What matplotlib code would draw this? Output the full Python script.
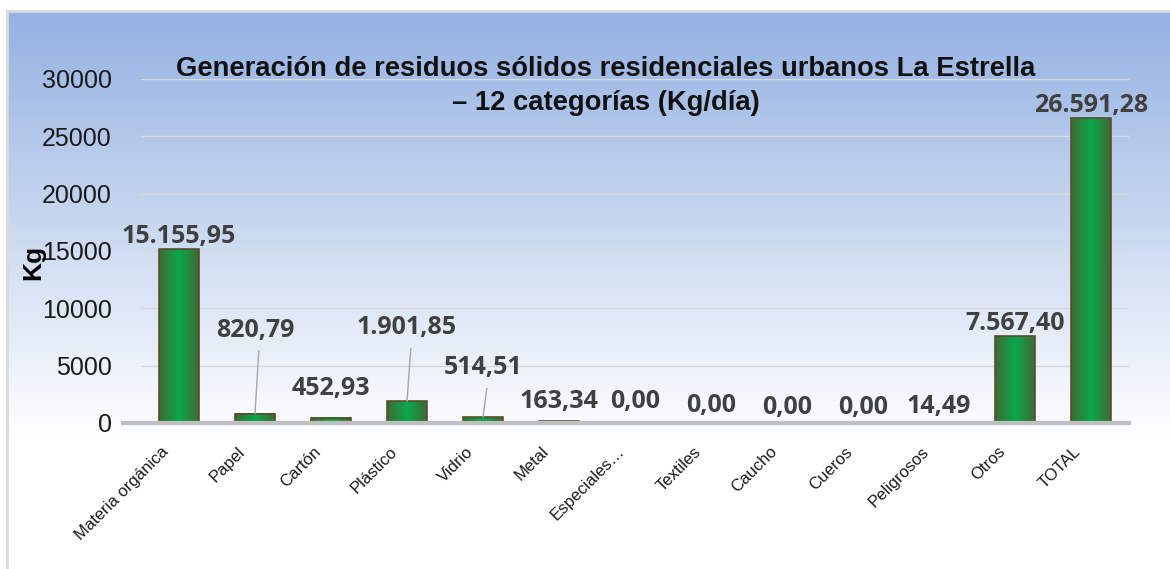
import numpy as np
import matplotlib
matplotlib.use("Agg")
import matplotlib.pyplot as plt
from matplotlib.colors import LinearSegmentedColormap, to_rgb
from matplotlib.lines import Line2D
from matplotlib.transforms import ScaledTranslation

# ---- data ----
categories = ["Materia orgánica", "Papel", "Cartón", "Plástico", "Vidrio", "Metal",
              "Especiales…", "Textiles", "Caucho", "Cueros", "Peligrosos", "Otros", "TOTAL"]
values = [15155.95, 820.79, 452.93, 1901.85, 514.51, 163.34, 0.00, 0.00, 0.00, 0.00,
          14.49, 7567.40, 26591.28]
labels = ["15.155,95", "820,79", "452,93", "1.901,85", "514,51", "163,34", "0,00", "0,00",
          "0,00", "0,00", "14,49", "7.567,40", "26.591,28"]
yticks = [0, 5000, 10000, 15000, 20000, 25000, 30000]
title = "Generación de residuos sólidos residenciales urbanos La Estrella\n– 12 categorías (Kg/día)"

# label positions (data units, centre of label); None = just above bar
label_y = [None, 8100, 3000, 8300, 4800, 1850, 1850, 1550, 1350, 1350, 1450, None, None]
leaders = {1, 3, 4}

W, H, DPI = 1170, 569, 100
fig = plt.figure(figsize=(W / DPI, H / DPI), dpi=DPI)
fig.patch.set_facecolor("white")

# background gradient (figure)
bg = fig.add_axes([0, 0, 1, 1], zorder=-10)
bg.set_axis_off()
top_c = np.array(to_rgb("#93b1e2"))
white = np.array([1, 1, 1])
ys = np.linspace(0, 1, 400)  # 0 = top
grad_end = 440 / H
t = np.clip((ys - 10 / H) / (grad_end - 10 / H), 0, 1)
cols = top_c[None, :] * (1 - t[:, None]) + white[None, :] * t[:, None]
img = np.repeat(cols[:, None, :], 2, axis=1)
bg.imshow(img, aspect="auto", extent=[0, 1, 0, 1], origin="upper")
bg.set_xlim(0, 1); bg.set_ylim(0, 1)
bg.add_patch(plt.Rectangle((0, 1 - 10 / H), 1, 10 / H, color="white", zorder=2))
bg.add_patch(plt.Rectangle((0, 0), 7 / W, 1, color="white", zorder=2))
bg.plot([7 / W, 7 / W], [0, 1 - 11 / H], color="#d9d9d9", lw=2, zorder=3)
bg.plot([7 / W, 1], [1 - 11 / H, 1 - 11 / H], color="#d9d9d9", lw=2, zorder=3)

ax = fig.add_axes([141 / W, 1 - 423 / H, (1129 - 141) / W, (423 - 79) / H])
ax.patch.set_alpha(0)
x = np.arange(len(categories))
bw = 0.52

cmap = LinearSegmentedColormap.from_list("g", ["#3f6a35", "#0aa84c", "#3f6a35"])
grad = np.linspace(0, 1, 64)[None, :]
for xi, v in zip(x, values):
    if v > 0:
        ax.imshow(grad, cmap=cmap, aspect="auto",
                  extent=[xi - bw / 2, xi + bw / 2, 0, v], zorder=3, interpolation="bicubic")
bars = ax.bar(x, values, width=bw, facecolor="none", edgecolor="#5a4e2c", linewidth=1.2, zorder=4)

ax.set_xlim(-0.5, len(categories) - 0.5)
ax.set_ylim(0, 30000)
ax.set_yticks(yticks)
ax.set_yticklabels([str(t) for t in yticks], fontsize=18, family="Liberation Sans", color="#1a1a1a")
ax.tick_params(axis="y", length=0, pad=21)
ax.tick_params(axis="x", length=0, pad=19)
ax.set_xticks(x)
ax.set_xticklabels(categories, rotation=45, ha="right", va="center", fontsize=12,
                   family="Liberation Sans", color="#1a1a1a", rotation_mode="anchor")
shift = ScaledTranslation(-9 / 72, 0, fig.dpi_scale_trans)
for lbl in ax.get_xticklabels():
    lbl.set_transform(lbl.get_transform() + shift)
ax.grid(axis="y", color="#d9d9d9", lw=1, zorder=0)
for s in ax.spines.values():
    s.set_visible(False)
ax.add_line(Line2D([-0.018, 1], [0, 0], transform=ax.transAxes, color="#bfbfbf", lw=3,
                   clip_on=False, zorder=5))

for i, (xi, v, lab) in enumerate(zip(x, values, labels)):
    ly = label_y[i]
    if ly is None:
        ax.annotate(lab, (xi, v), xytext=(0, 0), textcoords="offset points", ha="center",
                    va="bottom", fontsize=18, fontweight="bold", family="Open Sans",
                    color="#404040", zorder=6)
    else:
        ax.text(xi, ly, lab, ha="center", va="center", fontsize=18, fontweight="bold",
                family="Open Sans", color="#404040", zorder=6)
        if i in leaders:
            ax.plot([xi + 0.05, xi], [ly - 1800, v], color="#a6a6a6", lw=1, zorder=5)

ax.set_ylabel("Kg", fontsize=19, fontweight="bold", family="Liberation Sans")
ax.yaxis.set_label_coords(-0.097, 0.468)

fig.text(606 / W, 1 - 86 / H, title, ha="center", va="center", fontsize=19.7,
         fontweight="bold", family="Liberation Sans", color="#111111", linespacing=1.45)

fig.savefig("out.png", dpi=DPI)
